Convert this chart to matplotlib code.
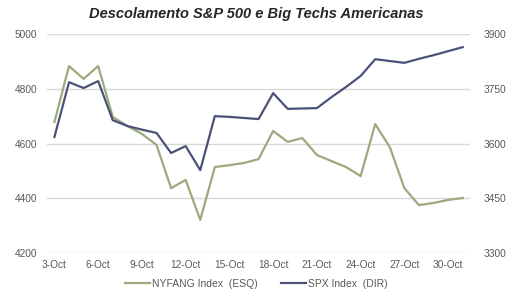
import numpy as np
import pandas as pd
import matplotlib.pyplot as plt

plt.rcParams['font.family'] = ['Liberation Sans', 'DejaVu Sans']

# Datas diárias de 3-Oct a 31-Oct
datas = pd.date_range('2022-10-03', '2022-10-31', freq='D')

nyfang = [4679, 4883, 4836, 4883, 4697, 4664, 4635, 4595, 4437, 4467,
          4321, 4514, 4521, 4529, 4543, 4646, 4606, 4620, 4558, 4536,
          4514, 4481, 4671, 4587, 4437, 4375, 4383, 4394, 4401]
spx = [3618, 3768, 3752, 3771, 3664, 3648, 3638, 3629, 3574, 3593,
       3527, 3675, 3673, 3670, 3667, 3738, 3695, 3696, 3697, 3727,
       3755, 3785, 3831, 3826, 3821, 3832, 3842, 3853, 3864]

esq_ticks = [4200, 4400, 4600, 4800, 5000]
dir_ticks = [3300, 3450, 3600, 3750, 3900]

cor_nyfang = '#9caa7c'
cor_spx = '#4b5279'
cor_texto = '#595959'

fig = plt.figure(figsize=(5.07, 2.97), dpi=100)
ax = fig.add_axes([0.093, 0.148, 0.834, 0.7375])
ax2 = ax.twinx()

x = np.arange(len(datas))
l1, = ax.plot(x, nyfang, color=cor_nyfang, lw=1.6, label='NYFANG Index  (ESQ)')
l2, = ax2.plot(x, spx, color=cor_spx, lw=1.6, label='SPX Index  (DIR)')

ax.set_xlim(-0.5, len(datas) - 0.5)
ax.set_ylim(4200, 5000)
ax2.set_ylim(3300, 3900)
ax.set_yticks(esq_ticks)
ax2.set_yticks(dir_ticks)

pos = x[::3]
ax.set_xticks(pos)
ax.set_xticklabels([d.strftime('%-d-Oct') for d in datas[::3]])

ax.grid(axis='y', color='#d9d9d9', lw=1)
ax.set_axisbelow(True)
for a in (ax, ax2):
    for s in a.spines.values():
        s.set_visible(False)
    a.tick_params(length=0, labelsize=7.3, colors=cor_texto)
ax.tick_params(axis='y', pad=7)
ax2.tick_params(axis='y', pad=10)
ax.tick_params(axis='x', pad=5)

fig.suptitle('Descolamento S&P 500 e Big Techs Americanas', x=0.505, y=0.975,
             fontsize=10.5, fontweight='bold', fontstyle='italic', color='#262626')

fig.legend(handles=[l1, l2], loc='center', bbox_to_anchor=(0.505, 0.045), ncol=2,
           frameon=False, fontsize=7.5, labelcolor=cor_texto, handlelength=2.4,
           handletextpad=0.2, columnspacing=2.2)

fig.savefig('out.png', dpi=100)
